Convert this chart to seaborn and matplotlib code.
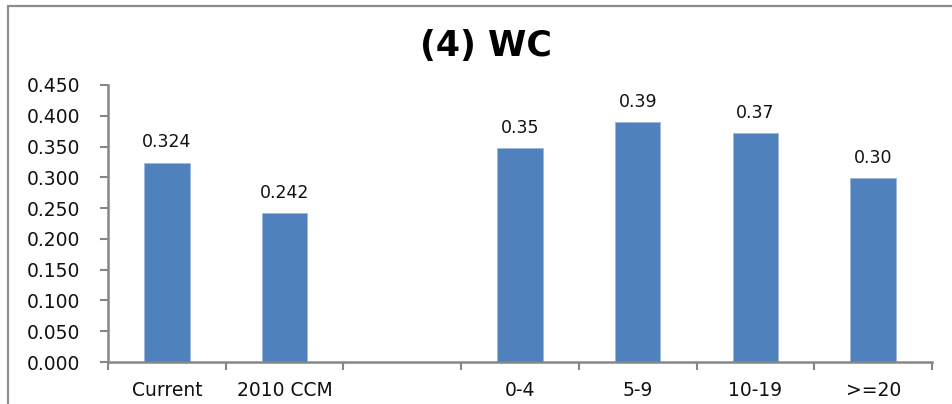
import numpy as np
import pandas as pd
import matplotlib
matplotlib.use("Agg")
import matplotlib.pyplot as plt
from matplotlib.lines import Line2D
import seaborn as sns

# Group categories (blank slot separates the two groups)
categories = ["Current", "2010 CCM", " ", "0-4", "5-9", "10-19", ">=20"]
values = [0.324, 0.242, np.nan, 0.347, 0.390, 0.372, 0.299]
value_labels = ["0.324", "0.242", "", "0.35", "0.39", "0.37", "0.30"]
y_ticks = [0.000, 0.050, 0.100, 0.150, 0.200, 0.250, 0.300, 0.350, 0.400, 0.450]
title = "(4) WC"

sns.set_theme(style="white")
plt.rcParams["font.family"] = ["DejaVu Sans"]

df = pd.DataFrame({"category": categories, "value": values})

fig = plt.figure(figsize=(9.53, 4.04), dpi=100)
ax = fig.add_axes([108 / 953, 1 - 362 / 404, (932 - 108) / 953, (362 - 85) / 404])

sns.barplot(data=df, x="category", y="value", order=categories,
            color="#4F81BD", saturation=1, width=0.385, ax=ax,
            edgecolor="#9DB9DD", linewidth=0.6)

ax.set_xlim(-0.5, len(categories) - 0.5)
ax.set_ylim(0, 0.45)
ax.set_yticks(y_ticks)
ax.set_yticklabels([f"{t:.3f}" for t in y_ticks])

# Category labels sit on minor ticks; major ticks mark category boundaries
ax.set_xticks(np.arange(len(categories)), minor=True)
ax.set_xticklabels(categories, minor=True)
ax.set_xticks(np.arange(len(categories) + 1) - 0.5)
ax.set_xticklabels([])
ax.tick_params(axis="x", which="minor", length=0, pad=14, labelsize=13.5,
               labelcolor="#111111")
ax.tick_params(axis="x", which="major", length=6, width=1.5, color="#868686",
               direction="out", bottom=True)
ax.tick_params(axis="y", length=6, width=1.5, color="#868686", direction="out",
               left=True, pad=14, labelsize=13.5, labelcolor="#111111")

ax.set_xlabel("")
ax.set_ylabel("")
for side in ["top", "right"]:
    ax.spines[side].set_visible(False)
for side in ["left", "bottom"]:
    ax.spines[side].set_color("#868686")
    ax.spines[side].set_linewidth(1.8)

# Value labels above each bar
for i, (v, lab) in enumerate(zip(values, value_labels)):
    if not np.isnan(v):
        ax.annotate(lab, (i, v), xytext=(0, 8), textcoords="offset points",
                    ha="center", va="bottom", fontsize=12.5, color="#111111")

fig.text(486 / 953, 1 - 46 / 404, title, ha="center", va="center",
         fontsize=25, fontweight="bold", color="#000000")

# Chart frame (top and left edges visible)
fig.add_artist(Line2D([8.5 / 953, 8.5 / 953], [1 - 6 / 404, 0], transform=fig.transFigure,
                      color="#8C8C8C", linewidth=1.6))
fig.add_artist(Line2D([8.5 / 953, 1], [1 - 6 / 404, 1 - 6 / 404], transform=fig.transFigure,
                      color="#8C8C8C", linewidth=1.6))

fig.savefig("out.png", dpi=100)
